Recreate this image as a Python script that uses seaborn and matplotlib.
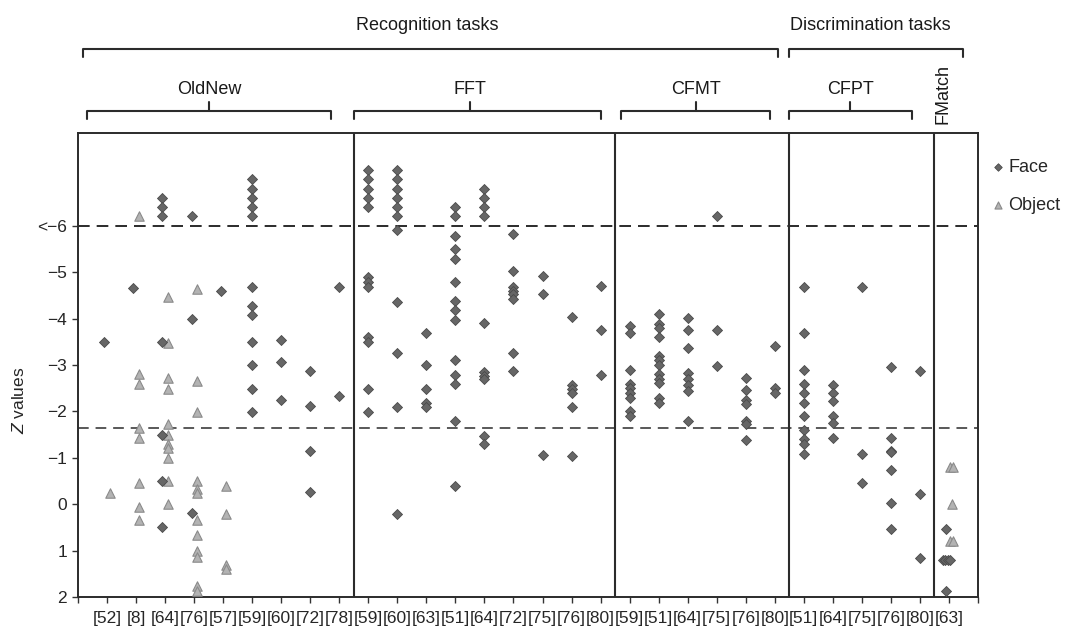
import numpy as np
import pandas as pd
import seaborn as sns
import matplotlib.pyplot as plt
import matplotlib.transforms as mtransforms
from collections import Counter, defaultdict

# Reference labels per task group
oldnew_refs = ["[52]", "[8]", "[64]", "[76]", "[57]", "[59]", "[60]", "[72]", "[78]"]
fft_refs = ["[59]", "[60]", "[63]", "[51]", "[64]", "[72]", "[75]", "[76]", "[80]"]
cfmt_refs = ["[59]", "[51]", "[64]", "[75]", "[76]", "[80]"]
cfpt_refs = ["[51]", "[64]", "[75]", "[76]", "[80]"]
fmatch_refs = ["[63]"]

# Z values (values below -6 are stacked at -6.2, -6.4, ...)
oldnew_face = [
    [-3.5],
    [-4.65],
    [-6.6, -6.4, -6.2, -3.5, -1.5, -0.5, 0.5],
    [-6.2, -4.0, 0.18],
    [-4.6],
    [-7.0, -6.8, -6.6, -6.4, -6.2, -4.67, -4.28, -4.08, -3.5, -3.0, -2.48, -1.98],
    [-3.53, -3.07, -2.25],
    [-2.87, -2.12, -1.14, -0.27],
    [-4.68, -2.33],
]
oldnew_object = [
    [-0.25],
    [-6.2, -2.8, -2.6, -1.65, -1.42, -0.45, 0.05, 0.35],
    [-4.47, -3.48, -2.73, -2.48, -1.73, -1.5, -1.3, -1.22, -1.0, -0.5, 0.0],
    [-4.64, -2.65, -1.98, -0.5, -0.33, -0.24, 0.35, 0.67, 1.0, 1.13, 1.77, 1.88],
    [-0.4, 0.22, 1.3, 1.4],
    [], [], [], [],
]
fft_face = [
    [-7.2, -7.0, -6.8, -6.6, -6.4, -4.9, -4.79, -4.67, -3.6, -3.49, -2.48, -1.98],
    [-7.2, -7.0, -6.8, -6.6, -6.4, -6.2, -5.9, -4.35, -3.25, -2.1, 0.22],
    [-3.69, -2.99, -2.48, -2.17, -2.1],
    [-6.4, -6.2, -5.78, -5.49, -5.28, -4.79, -4.38, -4.19, -3.98, -3.1, -2.79, -2.59, -1.79, -0.4],
    [-6.8, -6.6, -6.4, -6.2, -3.9, -2.85, -2.77, -2.7, -1.48, -1.3],
    [-5.83, -5.02, -4.69, -4.6, -4.52, -4.43, -3.25, -2.87],
    [-4.91, -4.52, -1.05],
    [-4.03, -2.57, -2.48, -2.4, -2.1, -1.04],
    [-4.71, -3.76, -2.79],
]
cfmt_face = [
    [-3.83, -3.69, -2.89, -2.6, -2.5, -2.4, -2.28, -2.0, -1.89],
    [-4.09, -3.89, -3.8, -3.6, -3.2, -3.1, -3.01, -2.81, -2.7, -2.61, -2.28, -2.17],
    [-4.01, -3.76, -3.36, -2.83, -2.7, -2.56, -2.43, -1.79],
    [-6.2, -3.76, -2.97],
    [-2.71, -2.47, -2.25, -2.15, -1.8, -1.73, -1.39],
    [-3.4, -2.51, -2.39],
]
cfpt_face = [
    [-4.68, -3.69, -2.89, -2.59, -2.39, -2.19, -1.89, -1.6, -1.4, -1.3, -1.09],
    [-2.56, -2.39, -2.22, -1.89, -1.74, -1.43],
    [-4.68, -1.09, -0.45],
    [-2.95, -1.42, -1.15, -1.12, -0.74, -0.02, 0.53],
    [-2.88, -0.21, 1.15],
]
fmatch_face = [[0.54, 1.2, 1.2, 1.2, 1.2, 1.87]]
fmatch_object = [[-0.8, -0.8, 0.0, 0.8, 0.8]]

ytick_vals = [2, 1, 0, -1, -2, -3, -4, -5, -6]
ytick_labels = ["2", "1", "0", "\u22121", "\u22122", "\u22123", "\u22124", "\u22125", "<\u22126"]
cutoffs = [-6, -1.65]

# build long-form table
tick_labels = oldnew_refs + fft_refs + cfmt_refs + cfpt_refs + fmatch_refs
face_all = oldnew_face + fft_face + cfmt_face + cfpt_face + fmatch_face
obj_all = oldnew_object + [[]] * (len(fft_refs) + len(cfmt_refs) + len(cfpt_refs)) + fmatch_object


def spread(vals, center, step=0.08):
    # put identical values side by side
    counts = Counter(vals)
    seen = defaultdict(int)
    xs = []
    for v in vals:
        n = counts[v]
        k = seen[v]
        seen[v] += 1
        xs.append(center + (k - (n - 1) / 2) * step)
    return xs


rows = []
for i, (fv, ov) in enumerate(zip(face_all, obj_all)):
    pos = i + 1
    off = 0.09 if len(ov) else 0.0
    for x, v in zip(spread(fv, pos - off), fv):
        rows.append((x, v, "Face"))
    for x, v in zip(spread(ov, pos + off, 0.12), ov):
        rows.append((x, v, "Object"))
df = pd.DataFrame(rows, columns=["x", "z", "kind"])

sns.set_theme(style="ticks")
plt.rcParams["font.family"] = ["Liberation Sans", "DejaVu Sans"]
plt.rcParams["mathtext.fontset"] = "custom"
plt.rcParams["mathtext.it"] = "Liberation Sans:italic"
plt.rcParams["mathtext.rm"] = "Liberation Sans"

fig = plt.figure(figsize=(10.67, 6.29), dpi=100)
ax = fig.add_axes([0.0731, 0.0509, 0.8435, 0.7377])

sns.scatterplot(data=df[df.kind == "Face"], x="x", y="z", marker="D", s=26,
                color="#666666", edgecolor="#4a4a4a", linewidth=0.6, ax=ax,
                label="Face", zorder=4)
sns.scatterplot(data=df[df.kind == "Object"], x="x", y="z", marker="^", s=46,
                color="#b3b3b3", edgecolor="#8a8a8a", linewidth=0.8, ax=ax,
                label="Object", zorder=3)

ax.axhline(cutoffs[0], color="#2b2b2b", lw=1.4, dashes=(6, 3.6), zorder=2)
ax.axhline(cutoffs[1], color="#2b2b2b", lw=1.1, dashes=(7, 4.5), zorder=2)
for xs in [9.5, 18.5, 24.5, 29.5]:
    ax.axvline(xs, color="#2b2b2b", lw=1.5, zorder=2)

ax.set_xlim(0, len(tick_labels) + 1)
ax.set_ylim(2, -8)
ax.set_xticks(range(0, len(tick_labels) + 2))
ax.set_xticklabels([""] + tick_labels + [""], fontsize=12.5)
ax.set_yticks(ytick_vals)
ax.set_yticklabels(ytick_labels, fontsize=12.5)
ax.tick_params(axis="both", length=4, width=1, color="#333333", pad=4)
ax.tick_params(axis="x", pad=6)
ax.set_xlabel("")
ax.set_ylabel(r"$\it{Z}$ values", fontsize=12.5)
ax.yaxis.set_label_coords(-0.057, 0.425)
for sp in ax.spines.values():
    sp.set_color("#2b2b2b")
    sp.set_linewidth(1.4)

ax.legend(loc="upper left", bbox_to_anchor=(0.929, 0.747), bbox_transform=fig.transFigure,
          frameon=False, handletextpad=0.15, handlelength=0.8, borderaxespad=0,
          borderpad=0, labelspacing=1.15, markerscale=0.75, fontsize=13)

# brackets above the plot
trans = mtransforms.blended_transform_factory(ax.transData, fig.transFigure)
bk = dict(color="#2b2b2b", lw=1.5, transform=trans, clip_on=False, solid_capstyle="round")


def bracket(x0, x1, ytop, drop, tip=None):
    ax.plot([x0, x0, x1, x1], [ytop - drop, ytop, ytop, ytop - drop], **bk)
    if tip is not None:
        ax.plot([tip, tip], [ytop, ytop + 0.014], **bk)


bracket(0.17, 24.1, 0.922, 0.013)
bracket(24.48, 30.5, 0.922, 0.013)
bracket(0.31, 8.72, 0.8235, 0.013, 4.52)
bracket(9.52, 18.03, 0.8235, 0.013, 13.5)
bracket(18.7, 23.83, 0.8235, 0.013, 21.3)
bracket(24.48, 28.72, 0.8235, 0.013, 26.6)

tk = dict(transform=trans, ha="center", va="center", fontsize=13, color="#1a1a1a")
ax.text(12.03, 0.959, "Recognition tasks", **tk)
ax.text(27.3, 0.959, "Discrimination tasks", **tk)
ax.text(4.52, 0.857, "OldNew", **tk)
ax.text(13.5, 0.857, "FFT", **tk)
ax.text(21.3, 0.857, "CFMT", **tk)
ax.text(26.6, 0.857, "CFPT", **tk)
ax.text(29.8, 0.850, "FMatch", rotation=90, **tk)

fig.savefig("out.png", dpi=100)
